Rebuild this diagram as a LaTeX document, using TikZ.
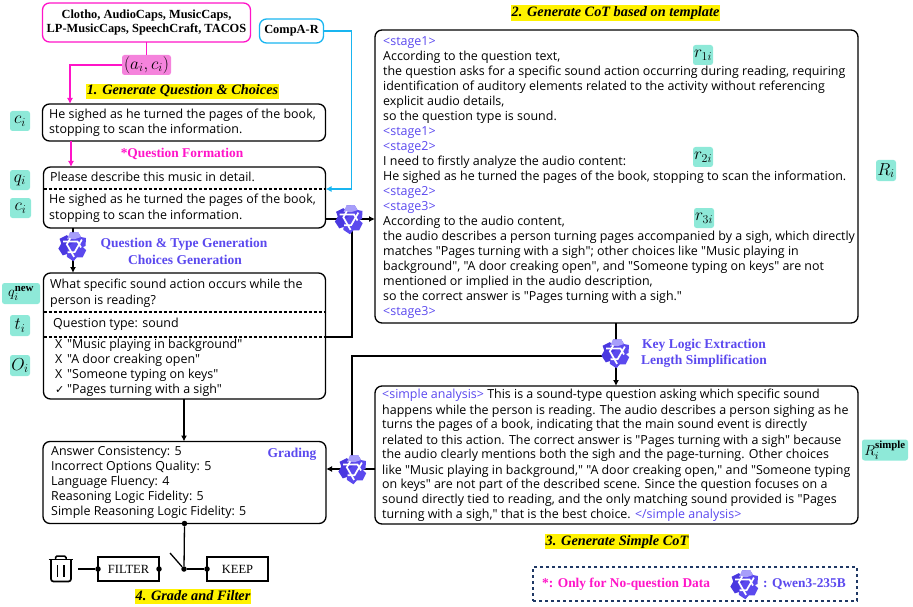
\documentclass[tikz,border=0pt]{standalone}
\usepackage{fontspec}
\setmainfont{Liberation Serif}
\newfontfamily\cfont{Open Sans}
\newfontfamily\symfont{DejaVu Sans}
\usetikzlibrary{arrows.meta,calc}
\definecolor{mag}{HTML}{FF14C8}
\definecolor{cy}{HTML}{19B5F0}
\definecolor{pur}{HTML}{5B49EE}
\definecolor{lpur}{HTML}{A79EFA}
\definecolor{dpur}{HTML}{4A38E0}
\definecolor{teal1}{HTML}{8EE9D8}
\definecolor{pnk}{HTML}{F583DC}
\definecolor{navy1}{HTML}{1F3864}
\tikzset{
  x=1pt,y=-1pt,
  conn/.style={line width=1.3pt,black},
  arr/.style={-{Latex[length=6pt,width=6pt]}},
  box/.style={draw=black,line width=1.3pt,rounded corners=7pt,inner sep=0pt,outer sep=0pt},
  txt/.style={anchor=west,inner sep=0pt,yshift=-0.6pt,font=\cfont\fontsize{12.45}{13}\selectfont,text height=9pt,text depth=2.5pt},
  chip/.style={fill=teal1,rounded corners=2.5pt,inner sep=0pt,outer sep=0pt,font=\fontsize{17}{18}\selectfont},
  chipsm/.style={chip,font=\fontsize{15.5}{16}\selectfont},
  step label/.style={fill=yellow,inner sep=0pt,outer sep=0pt,font=\bfseries\itshape\fontsize{14.3}{15}\selectfont,text height=10pt,text depth=3pt},
  ptitle/.style={inner sep=0pt,text=pur,font=\bfseries\fontsize{13.5}{14}\selectfont},
  sq/.style={draw=black,line width=1.3pt,inner sep=0pt,outer sep=0pt,minimum width=61pt,minimum height=24pt,font=\fontsize{12.5}{13}\selectfont},
  dot/.style={circle,fill=black,inner sep=0pt,minimum size=5.5pt},
  pics/qwen/.style={code={
    \begin{scope}[scale=#1]
    \foreach \a/\c in {0/pur,120/dpur,240/pur}{
      \begin{scope}[rotate=\a]
        \fill[\c] (-3,-13.5) -- (5,-14) -- (8,-9) -- (13,-8) -- (12.5,0) -- (3,4) -- (-6,0) -- cycle;
      \end{scope}}
    \fill[lpur] (-3,-13.5) -- (5,-14) -- (8,-9) -- (2,-7) -- (-6,-7) -- cycle;
    \foreach \a in {0,120,240}{
      \begin{scope}[rotate=\a]
        \draw[white,line width=1.7pt] (-10,-4.5) -- (4.5,-4.5) -- (8,1.5);
      \end{scope}}
    \end{scope}}}
}
\newcommand{\qlogo}[2]{\pic at (#1) {qwen=#2};}
\begin{document}
\begin{tikzpicture}
\useasboundingbox (0,0) rectangle (913,607);

% --- source nodes
\node[box,draw=mag,minimum width=208pt,minimum height=39pt,align=center,font=\bfseries\fontsize{12.4}{14.3}\selectfont] (src) at (146.5,22.5) {Clotho, AudioCaps, MusicCaps,\\LP-MusicCaps, SpeechCraft, TACOS};
\node[box,draw=cy,minimum width=64pt,minimum height=24pt,font=\bfseries\fontsize{12.4}{14}\selectfont] (compa) at (291.5,31) {CompA-R};
\node[fill=pnk,rounded corners=2.5pt,inner sep=0pt,outer sep=0pt,minimum width=49pt,minimum height=20pt,font=\fontsize{17}{18}\selectfont] (ac) at (146.5,65) {$(a_i,c_i)$};

% --- left boxes
\node[box,minimum width=283pt,minimum height=37pt] (capbox) at (184,122.5) {};
\node[box,minimum width=282pt,minimum height=61pt] (qbox) at (184.5,197.5) {};
\node[box,minimum width=282pt,minimum height=126pt] (genbox) at (184.5,336) {};
\node[box,minimum width=283pt,minimum height=82pt] (gradebox) at (184.5,482.5) {};

% --- right boxes
\node[box,minimum width=483pt,minimum height=293pt] (cot) at (616.5,176.5) {};
\node[box,minimum width=483pt,minimum height=138pt] (simple) at (616.5,455) {};

% --- named junctions
\coordinate (capin) at (70,104);
\coordinate (capout) at (71,141);
\coordinate (qin) at (71,167);
\coordinate (qdashL) at (43.5,189);
\coordinate (qdashR) at (325.5,189);
\coordinate (qout) at (325.5,219);
\coordinate (qdown) at (73,228);
\coordinate (genin) at (73,273);
\coordinate (d1L) at (43.5,312);
\coordinate (d1R) at (325.5,312);
\coordinate (d2L) at (43.5,337);
\coordinate (d2R) at (325.5,337);
\coordinate (genout) at (184,399);
\coordinate (gradein) at (184,441.5);
\coordinate (cotin) at (375,219);
\coordinate (cotout) at (616,323);
\coordinate (simin) at (616,386);
\coordinate (simout) at (375,469);
\coordinate (gradeR) at (326,469);
\coordinate (lgv) at (352,219);
\coordinate (lg1) at (349.5,219);
\coordinate (lg2) at (73,246);
\coordinate (lg3) at (616,353);
\coordinate (lg4) at (353,469);
\coordinate (lg5) at (745,584);
\coordinate (trashR) at (78,569);
\coordinate (sw) at (170,553);
\coordinate (bend) at (352,356);
\coordinate (bendlow) at (352,469);

% --- connectors
\draw[conn,mag,line width=1.4pt] (src.south) -- (ac.north);
\draw[conn,mag,line width=1.4pt,arr] (ac.west) -| (capin);
\draw[conn,mag,line width=1.4pt,arr] (capout) -- (qin);
\draw[conn,cy,line width=1.4pt,arr] (compa.east) -- ++(28,0) |- (qdashR);
\draw[conn,arr] (qdown) -- (genin);
\draw[conn,arr] (qout) -- (cotin);
\draw[conn] (d2R) -| (lgv);
\draw[conn,arr] (genout) -- (gradein);
\draw[conn,arr] (cotout) -- (simin);
\draw[conn] (lg3 |- bend) -- (bend) -- (bendlow);
\draw[conn,arr] (simout) -- (gradeR);
\draw[dashed,line width=1.2pt,dash pattern=on 3.5pt off 1.5pt] (qdashL) -- (qdashR);
\draw[dashed,line width=1.2pt,dash pattern=on 3.5pt off 1.5pt] (d1L) -- (d1R);
\draw[dashed,line width=1.2pt,dash pattern=on 3.5pt off 1.5pt] (d2L) -- (d2R);

% --- logos
\qlogo{lg1}{1}
\qlogo{lg2}{1}
\qlogo{lg3}{1}
\qlogo{lg4}{1}

% --- step labels
\node[step label,minimum width=193pt,minimum height=15pt] (l1) at (182.5,91.5) {1. Generate Question \& Choices};
\node[step label,minimum width=209pt,minimum height=16pt] (l2) at (615.5,13) {2. Generate CoT based on template};
\node[step label,minimum width=144pt,minimum height=15pt] (l3) at (617,541.5) {3. Generate Simple CoT};
\node[step label,minimum width=116pt,minimum height=15pt] (l4) at (193,596.5) {4. Grade and Filter};

% --- titles
\node[inner sep=0pt,text=mag,font=\bfseries\fontsize{13.4}{14}\selectfont] (qf) at (182,154) {*Question Formation};
\node[ptitle] (tg1) at (184,244) {Question \& Type Generation};
\node[ptitle] (tg2) at (185,260) {Choices Generation};
\node[ptitle] (tg3) at (704,345) {Key Logic Extraction};
\node[ptitle] (tg4) at (704,361) {Length Simplification};
\node[ptitle] (tg5) at (292,454) {Grading};

% --- left text
\node[txt] (c1a) at (49,115) {He sighed as he turned the pages of the book,};
\node[txt] (c1b) at (49,130) {stopping to scan the information.};
\node[txt] (q1) at (50,178) {Please describe this music in detail.};
\node[txt] (c2a) at (49,200) {He sighed as he turned the pages of the book,};
\node[txt] (c2b) at (49,216) {stopping to scan the information.};
\node[txt] (g1) at (50,285) {What specific sound action occurs while the};
\node[txt] (g2) at (50,301) {person is reading?};
\node[txt] (g3) at (53,323.5) {Question type: sound};
\node[txt] (g4) at (55,345) {X};
\node[txt] (g5) at (67,345) {"Music playing in background"};
\node[txt] (g6) at (55,360) {X};
\node[txt] (g7) at (67,360) {"A door creaking open"};
\node[txt] (g8) at (55,375) {X};
\node[txt] (g9) at (67,375) {"Someone typing on keys"};
\node[txt,font=\symfont\fontsize{11}{12}\selectfont] (g10) at (55,390) {✓};
\node[txt] (g11) at (67,390) {"Pages turning with a sigh"};
\node[txt] (s1) at (51,451.5) {Answer Consistency: 5};
\node[txt] (s2) at (51,467) {Incorrect Options Quality: 5};
\node[txt] (s3) at (51,481.5) {Language Fluency: 4};
\node[txt] (s4) at (51,497) {Reasoning Logic Fidelity: 5};
\node[txt] (s5) at (51,511.5) {Simple Reasoning Logic Fidelity: 5};

% --- CoT text
\foreach \yy/\col/\tt [count=\n] in {
 42/pur/{<stage1>},
 57/black/{According to the question text,},
 72/black/{the question asks for a specific sound action occurring during reading, requiring},
 87/black/{identification of auditory elements related to the activity without referencing},
 102/black/{explicit audio details,},
 117/black/{so the question type is sound.},
 132/pur/{<stage1>},
 146.5/pur/{<stage2>},
 162/black/{I need to firstly analyze the audio content:},
 176.5/black/{He sighed as he turned the pages of the book, stopping to scan the information.},
 192/pur/{<stage2>},
 207/pur/{<stage3>},
 221.5/black/{According to the audio content,},
 237/black/{the audio describes a person turning pages accompanied by a sigh, which directly},
 252/black/{matches "Pages turning with a sigh"; other choices like "Music playing in},
 266.5/black/{background", "A door creaking open", and "Someone typing on keys" are not},
 281.5/black/{mentioned or implied in the audio description,},
 296.5/black/{so the correct answer is "Pages turning with a sigh."},
 311.5/pur/{<stage3>}}{
  \node[txt,text=\col] (cot\n) at (383,\yy) {\tt};
}

% --- simple text
\foreach \yy/\tt [count=\n] in {
 395/{\textcolor{pur}{<simple analysis>} This is a sound-type question asking which specific sound},
 410.5/{happens while the person is reading. The audio describes a person sighing as he},
 425/{turns the pages of a book, indicating that the main sound event is directly},
 441/{related to this action. The correct answer is "Pages turning with a sigh" because},
 455/{the audio clearly mentions both the sigh and the page-turning. Other choices},
 470.5/{like "Music playing in background," "A door creaking open," and "Someone typing},
 485/{on keys" are not part of the described scene. Since the question focuses on a},
 500/{sound directly tied to reading, and the only matching sound provided is "Pages},
 515/{turning with a sigh," that is the best choice. \textcolor{pur}{</simple analysis>}}}{
  \node[txt] (sim\n) at (382,\yy) {\tt};
}

% --- chips
\node[chip,minimum width=20pt,minimum height=20pt] (k1) at (20,121) {$c_i$};
\node[chip,minimum width=20pt,minimum height=20pt] (k2) at (20,180) {$q_i$};
\node[chip,minimum width=21pt,minimum height=20pt] (k3) at (20.5,208) {$c_i$};
\node[chipsm,minimum width=38pt,minimum height=21pt] (k4) at (21,293.5) {$q_i^{\mathbf{new}}$};
\node[chip,minimum width=20pt,minimum height=21pt] (k5) at (20,325.5) {$t_i$};
\node[chip,minimum width=20pt,minimum height=21pt] (k6) at (20,365.5) {$O_i$};
\node[chip,minimum width=20pt,minimum height=20pt] (k7) at (703,55) {$r_{1i}$};
\node[chip,minimum width=20pt,minimum height=20pt] (k8) at (703,157) {$r_{2i}$};
\node[chip,minimum width=20pt,minimum height=20pt] (k9) at (704,218) {$r_{3i}$};
\node[chip,minimum width=20pt,minimum height=21pt] (k10) at (886,170.5) {$R_i$};
\node[chipsm,minimum width=46pt,minimum height=21pt] (k11) at (885,450) {$R_i^{\mathbf{simple}}$};

% --- filter part
\node[sq] (filt) at (128.5,569) {FILTER};
\node[sq] (keep) at (237.5,569) {KEEP};
\node[dot] (d1) at (gradebox.south) {};
\node[dot] (d2) at (184,569) {};
\node[dot] (d3) at (filt.west) {};
\node[dot] (d4) at (filt.east) {};
\node[dot] (d5) at (keep.west) {};
\draw[conn] (d1) -- (d2);
\draw[conn] (d2) -- (d5);
\draw[conn] (d2) -- (sw);
\draw[conn] (trashR) -- (d3);
% trash icon
\draw[line width=1.7pt,line join=round] (48.5,559.5) -- (73,559.5);
\draw[line width=1.5pt,rounded corners=1.5pt] (55.5,559.5) -- (55.5,556) -- (66,556) -- (66,559.5);
\draw[line width=1.7pt,rounded corners=2.5pt] (51,559.5) -- (51,581.5) -- (71,581.5) -- (71,559.5);
\draw[line width=1.5pt] (57.5,565) -- (57.5,577);
\draw[line width=1.5pt] (64,565) -- (64,577);

% --- legend
\node[draw=navy1,line width=1.3pt,dashed,inner sep=0pt,minimum width=324pt,minimum height=34pt] (leg) at (695,584) {};
\node[inner sep=0pt,anchor=west,text=mag,font=\bfseries\fontsize{13.4}{14}\selectfont] (leg1) at (542,584) {*: Only for No-question Data};
\node[inner sep=0pt,anchor=west,text=pur,font=\bfseries\fontsize{13.4}{14}\selectfont] (leg2) at (763,584) {: Qwen3-235B};
\qlogo{lg5}{1}
\end{tikzpicture}
\end{document}
